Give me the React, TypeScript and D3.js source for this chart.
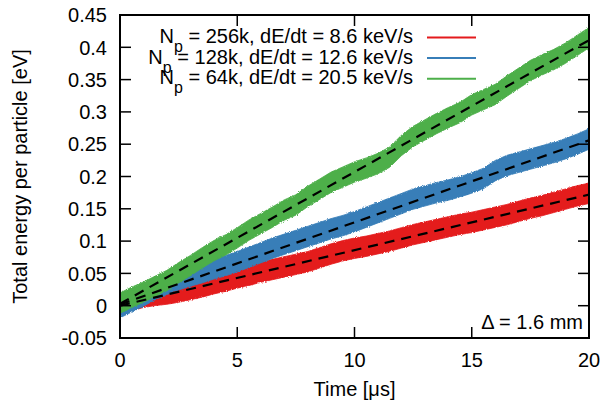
import * as d3 from "d3";

// time axis samples [µs]
const times = [
  0, 0.5, 1, 1.5, 2, 2.5, 3, 3.5, 4, 4.5, 5, 5.5, 6, 6.5, 7, 7.5, 8, 8.5, 9, 9.5, 10,
  10.5, 11, 11.5, 12, 12.5, 13, 13.5, 14, 14.5, 15, 15.5, 16, 16.5, 17, 17.5, 18, 18.5, 19, 19.5, 20,
];

// band centre of each run [eV]
const redEnergy = [
  0.003, 0.008, 0.013, 0.016, 0.018, 0.021, 0.025, 0.029, 0.034, 0.038, 0.043, 0.047, 0.052, 0.056,
  0.06, 0.064, 0.068, 0.074, 0.08, 0.085, 0.089, 0.092, 0.096, 0.1, 0.105, 0.11, 0.114, 0.118, 0.122,
  0.126, 0.129, 0.133, 0.137, 0.141, 0.146, 0.151, 0.155, 0.16, 0.165, 0.17, 0.174,
];
const blueEnergy = [
  -0.003, 0.006, 0.015, 0.025, 0.033, 0.04, 0.046, 0.051, 0.057, 0.062, 0.068, 0.075, 0.082, 0.089,
  0.095, 0.101, 0.107, 0.113, 0.119, 0.124, 0.13, 0.137, 0.144, 0.151, 0.158, 0.165, 0.17, 0.175,
  0.179, 0.184, 0.19, 0.197, 0.209, 0.217, 0.222, 0.227, 0.232, 0.237, 0.243, 0.25, 0.258,
];
const greenEnergy = [
  0.004, 0.013, 0.021, 0.03, 0.039, 0.051, 0.062, 0.074, 0.085, 0.094, 0.105, 0.117, 0.127, 0.137,
  0.148, 0.156, 0.169, 0.18, 0.191, 0.199, 0.207, 0.213, 0.22, 0.23, 0.248, 0.262, 0.272, 0.282,
  0.291, 0.299, 0.311, 0.319, 0.327, 0.34, 0.352, 0.364, 0.373, 0.381, 0.391, 0.403, 0.415,
];

// linear fits: energy at t = 0 and t = 20
const fitStart = [0.0, 0.002, 0.003];
const fitEnd = [0.172, 0.256, 0.411];

const particleCounts = ["256k", "128k", "64k"];
const heatingRates = ["8.6", "12.6", "20.5"];
const colors = ["#e41a1c", "#377eb8", "#4daf4a"];

const xTicks = [0, 5, 10, 15, 20];
const yTicks = ["-0.05", "0", "0.05", "0.1", "0.15", "0.2", "0.25", "0.3", "0.35", "0.4", "0.45"];

export default function App() {
  const width = 603;
  const height = 406;
  const margin = { top: 15, right: 14, bottom: 68, left: 120 };
  const x = d3.scaleLinear().domain([0, 20]).range([margin.left, width - margin.right]);
  const y = d3.scaleLinear().domain([-0.05, 0.45]).range([height - margin.bottom, margin.top]);
  const font = "'Liberation Sans', Arial, sans-serif";
  const fs = 20;
  const tickLen = 11;
  const half = 0.0158;

  const series = [redEnergy, blueEnergy, greenEnergy];
  const band = (vals: number[]) =>
    d3
      .area<number>()
      .x((_, i) => x(times[i]))
      .y0((d) => y(d - half))
      .y1((d) => y(d + half))(vals) as string;

  const x0 = x(0), x1 = x(20), y0 = y(-0.05), y1 = y(0.45);

  return (
    <svg
      width={width}
      height={height}
      style={{ position: "absolute", left: 0, top: 0, background: "#fff" }}
      fontFamily={font}
    >
      <defs>
        <clipPath id="plot">
          <rect x={x0} y={y1} width={x1 - x0} height={y0 - y1} />
        </clipPath>
        <filter id="rough" x="-5%" y="-5%" width="110%" height="110%">
          <feTurbulence type="fractalNoise" baseFrequency="1.2" numOctaves="1" seed="4" result="noise" />
          <feDisplacementMap in="SourceGraphic" in2="noise" scale="3" xChannelSelector="R" yChannelSelector="G" />
        </filter>
      </defs>

      <g clipPath="url(#plot)">
        <g filter="url(#rough)">
          {series.map((vals, i) => (
            <path key={i} d={band(vals)} fill={colors[i]} stroke={colors[i]} strokeWidth={0.8} />
          ))}
        </g>
        {fitStart.map((s, i) => (
          <line
            key={i}
            x1={x(0)}
            y1={y(s)}
            x2={x(20)}
            y2={y(fitEnd[i])}
            stroke="#000"
            strokeWidth={2.2}
            strokeDasharray="10,7"
          />
        ))}
      </g>

      {/* ticks, mirrored inside */}
      {yTicks.map((t) => (
        <g key={t}>
          <line x1={x0} x2={x0 + tickLen} y1={y(+t)} y2={y(+t)} stroke="#000" strokeWidth={1.5} />
          <line x1={x1} x2={x1 - tickLen} y1={y(+t)} y2={y(+t)} stroke="#000" strokeWidth={1.5} />
          <text x={107} y={y(+t) + 7.2} textAnchor="end" fontSize={fs}>
            {t}
          </text>
        </g>
      ))}
      {xTicks.map((t) => (
        <g key={t}>
          <line x1={x(t)} x2={x(t)} y1={y0} y2={y0 - tickLen} stroke="#000" strokeWidth={1.5} />
          <line x1={x(t)} x2={x(t)} y1={y1} y2={y1 + tickLen} stroke="#000" strokeWidth={1.5} />
          <text x={x(t)} y={367} textAnchor="middle" fontSize={fs}>
            {t}
          </text>
        </g>
      ))}

      <rect x={x0} y={y1} width={x1 - x0} height={y0 - y1} fill="none" stroke="#000" strokeWidth={2} />

      {/* legend */}
      {particleCounts.map((n, i) => {
        const base = 43 + i * 20.6;
        return (
          <g key={n}>
            <text x={413} y={base} textAnchor="end" fontSize={fs}>
              N
              <tspan dy={9} fontSize={16}>
                p
              </tspan>
              <tspan dy={-9}>{` = ${n}, dE/dt = ${heatingRates[i]} keV/s`}</tspan>
            </text>
            <line x1={427} x2={476} y1={base - 5.5} y2={base - 5.5} stroke={colors[i]} strokeWidth={2} />
          </g>
        );
      })}

      <text x={583} y={329} textAnchor="end" fontSize={fs}>
        Δ = 1.6 mm
      </text>

      <text x={(x0 + x1) / 2} y={396} textAnchor="middle" fontSize={fs}>
        Time [μs]
      </text>
      <text
        transform={`translate(27,${(y0 + y1) / 2}) rotate(-90)`}
        textAnchor="middle"
        fontSize={fs}
      >
        Total energy per particle [eV]
      </text>
    </svg>
  );
}
